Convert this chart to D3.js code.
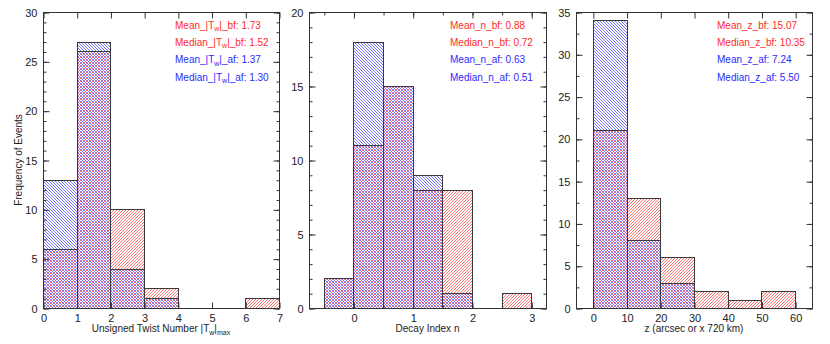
<!DOCTYPE html>
<html>
<head>
<meta charset="utf-8">
<script src="https://cdn.jsdelivr.net/npm/d3@7"></script>
<style>
body { margin: 0; background: #fff; }
text { font-family: "Liberation Sans", Arial, sans-serif; }
</style>
</head>
<body>
<script>
// histogram counts, bf = before (red), af = after (blue)
var twistEdges = [0, 1, 2, 3, 4, 5, 6, 7];
var twistBf = [6, 26, 10, 2, 0, 0, 1];
var twistAf = [13, 27, 4, 1, 0, 0, 0];
var twistStats = ["1.73", "1.52", "1.37", "1.30"];

var decayEdges = [-0.5, 0, 0.5, 1, 1.5, 2, 2.5, 3];
var decayBf = [2, 11, 15, 8, 8, 0, 1];
var decayAf = [2, 18, 15, 9, 1, 0, 0];
var decayStats = ["0.88", "0.72", "0.63", "0.51"];

var heightEdges = [0, 10, 20, 30, 40, 50, 60];
var heightBf = [21, 13, 6, 2, 1, 2];
var heightAf = [34, 8, 3, 0, 0, 0];
var heightStats = ["15.07", "10.35", "7.24", "5.50"];

// tick values
var twistXTicks = [0, 1, 2, 3, 4, 5, 6, 7];
var twistYTicks = [0, 5, 10, 15, 20, 25, 30];
var decayXTicks = [0, 1, 2, 3];
var decayYTicks = [0, 5, 10, 15, 20];
var heightXTicks = [0, 10, 20, 30, 40, 50, 60];
var heightYTicks = [0, 5, 10, 15, 20, 25, 30, 35];

var width = 830,
	height = 344;

var red = "#ff7474",
	blue = "#7474ff";

var svg = d3.select("body")
	.append("svg")
	.attr("width", width)
	.attr("height", height);

// hatch patterns, 3px diagonal lines
var defs = svg.append("defs");
var pRed = defs.append("pattern")
	.attr("id", "hatchRed")
	.attr("patternUnits", "userSpaceOnUse")
	.attr("width", 3)
	.attr("height", 3);
[[0, 2], [1, 1], [2, 0]].forEach(function(p) {
	pRed.append("rect").attr("x", p[0]).attr("y", p[1]).attr("width", 1).attr("height", 1).attr("fill", red);
});
var pBlue = defs.append("pattern")
	.attr("id", "hatchBlue")
	.attr("patternUnits", "userSpaceOnUse")
	.attr("width", 3)
	.attr("height", 3);
[[0, 0], [1, 1], [2, 2]].forEach(function(p) {
	pBlue.append("rect").attr("x", p[0]).attr("y", p[1]).attr("width", 1).attr("height", 1).attr("fill", blue);
});

// text with subscripts: parts = [[string, isSub], ...]
function richText(sel, parts, subSize) {
	var shifted = false;
	parts.forEach(function(p) {
		var t = sel.append("tspan").text(p[0]);
		if (p[1] && !shifted) { t.attr("dy", 2.5).style("font-size", subSize + "px"); shifted = true; }
		else if (!p[1] && shifted) { t.attr("dy", -2.5); shifted = false; }
		else if (p[1]) { t.style("font-size", subSize + "px"); }
	});
}

function panel(o)
{
	var x = d3.scaleLinear().domain(o.xDomain).range([o.left, o.right]);
	var y = d3.scaleLinear().domain(o.yDomain).range([308, 12]);
	var g = svg.append("g");

	function bars(counts, fill) {
		g.append("g").selectAll("rect")
			.data(counts)
			.enter().append("rect")
			.attr("x", function(d, i) { return Math.round(x(o.edges[i])); })
			.attr("y", function(d) { return Math.round(y(d)); })
			.attr("width", function(d, i) { return Math.round(x(o.edges[i + 1])) - Math.round(x(o.edges[i])); })
			.attr("height", function(d) { return Math.round(y(0)) - Math.round(y(d)); })
			.attr("fill", fill);
	}
	function outlines(counts) {
		g.append("g").selectAll("rect")
			.data(counts)
			.enter().append("rect")
			.attr("x", function(d, i) { return Math.round(x(o.edges[i])) + 0.5; })
			.attr("y", function(d) { return Math.round(y(d)) + 0.5; })
			.attr("width", function(d, i) { return Math.round(x(o.edges[i + 1])) - Math.round(x(o.edges[i])); })
			.attr("height", function(d) { return Math.round(y(0)) - Math.round(y(d)); })
			.attr("fill", "none")
			.attr("stroke", "#3a3a3a")
			.attr("stroke-width", 1);
	}
	bars(o.bf, "url(#hatchRed)");
	bars(o.af, "url(#hatchBlue)");
	outlines(o.bf);
	outlines(o.af);

	// axes, ticks point inward on all four sides
	var fmt = function(d) { return d; };
	var axes = [
		[d3.axisBottom(x).tickValues(o.xTicks).tickSize(-6).tickFormat(fmt), "translate(0.5,308.5)", true],
		[d3.axisTop(x).tickValues(o.xTicks).tickSize(-6).tickFormat(""), "translate(0.5,12.5)", false],
		[d3.axisLeft(y).tickValues(o.yTicks).tickSize(-6).tickFormat(fmt), "translate(" + (o.left + 0.5) + ",0.5)", true],
		[d3.axisRight(y).tickValues(o.yTicks).tickSize(-6).tickFormat(""), "translate(" + (o.right + 0.5) + ",0.5)", false]
	];
	if (o.xMinor) {
		axes.push([d3.axisBottom(x).tickValues(o.xMinor).tickSize(-3).tickFormat(""), "translate(0.5,308.5)", false]);
		axes.push([d3.axisTop(x).tickValues(o.xMinor).tickSize(-3).tickFormat(""), "translate(0.5,12.5)", false]);
	}
	axes.push([d3.axisLeft(y).tickValues(o.yMinor).tickSize(-3).tickFormat(""), "translate(" + (o.left + 0.5) + ",0.5)", false]);
	axes.push([d3.axisRight(y).tickValues(o.yMinor).tickSize(-3).tickFormat(""), "translate(" + (o.right + 0.5) + ",0.5)", false]);

	axes.forEach(function(a) {
		var ax = g.append("g")
			.attr("transform", a[1])
			.call(a[0].tickSizeOuter(0).tickPadding(6));
		ax.select(".domain").remove();
		ax.selectAll("line").attr("stroke", "#333");
		ax.selectAll("text").attr("fill", "#222").style("font-size", "11px");
	});

	// frame
	g.append("rect")
		.attr("x", o.left + 0.5)
		.attr("y", 12.5)
		.attr("width", o.right - o.left)
		.attr("height", 296)
		.attr("fill", "none")
		.attr("stroke", "#333");

	// x label
	var xl = g.append("text")
		.attr("x", (o.left + o.right) / 2)
		.attr("y", 332)
		.attr("text-anchor", "middle")
		.attr("fill", "#222")
		.style("font-size", "10px");
	richText(xl, o.xLabel, 7);

	// stats
	var names = [["Mean_", "_bf: "], ["Median_", "_bf: "], ["Mean_", "_af: "], ["Median_", "_af: "]];
	o.stats.forEach(function(v, i) {
		var t = g.append("text")
			.attr("x", o.left + o.legendX)
			.attr("y", 28.5 + i * 17.4)
			.attr("fill", i < 2 ? "#ff2a2a" : "#2a2aff")
			.style("font-size", "10px");
		var parts = [[names[i][0], 0]].concat(o.varName).concat([[names[i][1] + v, 0]]);
		richText(t, parts, 7);
	});
}

panel({
	left: 43, right: 279,
	xDomain: [0, 7], yDomain: [0, 30],
	edges: twistEdges, bf: twistBf, af: twistAf,
	xTicks: twistXTicks, yTicks: twistYTicks,
	yMinor: d3.range(0, 31, 1),
	xLabel: [["Unsigned Twist Number |T", 0], ["w", 1], ["|", 0], ["max", 1]],
	varName: [["|T", 0], ["w", 1], ["|", 0]],
	stats: twistStats, legendX: 132
});

panel({
	left: 309, right: 546,
	xDomain: [-0.75, 3.25], yDomain: [0, 20],
	edges: decayEdges, bf: decayBf, af: decayAf,
	xTicks: decayXTicks, yTicks: decayYTicks,
	xMinor: d3.range(-0.5, 3.01, 0.5),
	yMinor: d3.range(0, 21, 1),
	xLabel: [["Decay Index n", 0]],
	varName: [["n", 0]],
	stats: decayStats, legendX: 141
});

panel({
	left: 576, right: 812,
	xDomain: [-5, 65], yDomain: [0, 35],
	edges: heightEdges, bf: heightBf, af: heightAf,
	xTicks: heightXTicks, yTicks: heightYTicks,
	yMinor: d3.range(0, 35.1, 2.5),
	xLabel: [["z (arcsec or x 720 km)", 0]],
	varName: [["z", 0]],
	stats: heightStats, legendX: 141
});

// y label, shared
svg.append("text")
	.attr("transform", "translate(21.5,160) rotate(-90)")
	.attr("text-anchor", "middle")
	.attr("fill", "#222")
	.style("font-size", "10px")
	.text("Frequency of Events");
</script>
</body>
</html>
